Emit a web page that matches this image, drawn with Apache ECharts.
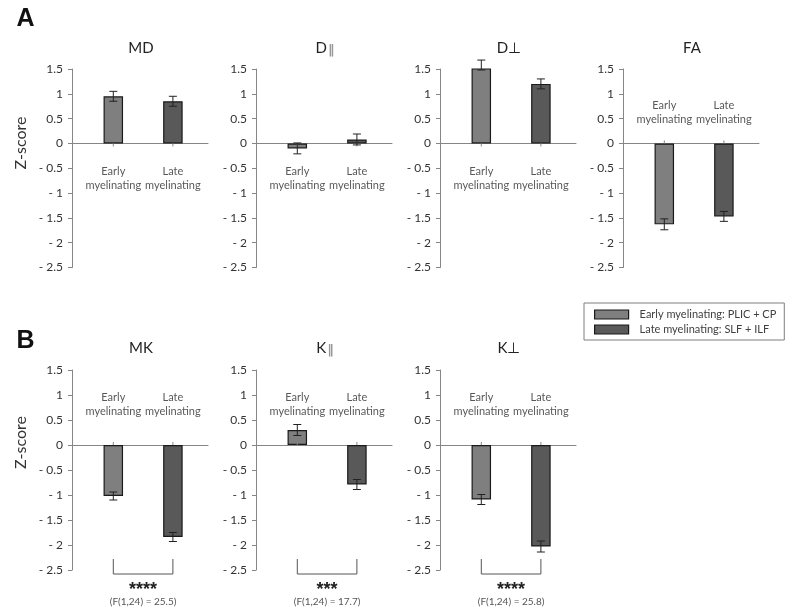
<!DOCTYPE html>
<html>
<head>
<meta charset="utf-8">
<script src="https://cdn.jsdelivr.net/npm/echarts@6/dist/echarts.min.js"></script>
<style>html,body{margin:0;padding:0;background:#fff;}#c{width:800px;height:616px;}</style>
</head>
<body>
<div id="c"></div>
<script>
// ---- data ----
const categories = ['Early\nmyelinating', 'Late\nmyelinating'];
const seriesNames = ['Early myelinating: PLIC + CP', 'Late myelinating: SLF + ILF'];
const panelTitles = ['{m|MD}', '{m|D}{p|‖}', '{m|D⊥}', '{m|FA}', '{m|MK}', '{m|K}{p|‖}', '{m|K⊥}'];
const earlyValues = [0.95, -0.10, 1.58, -1.63, -1.02, 0.30, -1.09];
const lateValues  = [0.85, 0.08, 1.20, -1.47, -1.84, -0.79, -2.03];
const earlyErrors = [0.10, 0.11, 0.10, 0.11, 0.08, 0.11, 0.10];
const lateErrors  = [0.10, 0.11, 0.10, 0.10, 0.09, 0.10, 0.11];
const sigStars = [null, null, null, null, '****', '***', '****'];
const sigStats = [null, null, null, null, '(F(1,24) = 25.5)', '(F(1,24) = 17.7)', '(F(1,24) = 25.8)'];
const yTickValues = [1.5, 1, 0.5, 0, -0.5, -1, -1.5, -2, -2.5];
const yTickLabels = ['1.5', '1', '0.5', '0', '- 0.5', '- 1', '- 1.5', '- 2', '- 2.5'];
const panelLetters = ['A', 'B'];
const yAxisTitle = 'Z-score';

// ---- layout ----
const panelAxisX = [72, 256, 440, 623, 72, 256, 440];
const panelRow = [0, 0, 0, 0, 1, 1, 1];
const rowTop = [69, 370];
const rowHeight = [198.5, 200];
const rowTitleY = [47.7, 347.7];
const labelPos = ['bottom', 'bottom', 'bottom', 'top', 'top', 'top', 'top'];
const labelMargin = [21, 21, 21, 17, 27, 27, 27];
const FONT = 'Lato, "Liberation Sans", sans-serif';
const AXIS_COLOR = '#868686';
const COLORS = ['#7f7f7f', '#595959'];

const grid = [], xAxis = [], yAxis = [], series = [], graphic = [];
const catPos = categories.map((c, k) => k + 0.5); // band centres on the band axis

function yLabel(v) {
  const i = yTickValues.findIndex(t => Math.abs(t - v) < 1e-9);
  return i >= 0 ? yTickLabels[i] : '';
}

panelTitles.forEach((t, i) => {
  const ax = panelAxisX[i], r = panelRow[i];
  const wide = grid.length, narrow = wide + 1;
  grid.push({ left: ax, top: rowTop[r], width: 136, height: rowHeight[r] });
  grid.push({ left: ax + 11.5, top: rowTop[r], width: 119.2, height: rowHeight[r] });
  // wide grid axes (visible y axis + zero line)
  yAxis.push({
    gridIndex: wide, type: 'value', min: -2.5, max: 1.5, interval: 0.5,
    axisLine: { show: true, lineStyle: { color: AXIS_COLOR, width: 1 } },
    axisTick: { show: true, length: 4, lineStyle: { color: AXIS_COLOR } },
    axisLabel: { formatter: yLabel, fontSize: 12, fontFamily: FONT, color: '#333', margin: 9 },
    splitLine: { show: false }
  });
  xAxis.push({
    gridIndex: wide, type: 'value', min: 0, max: 1,
    axisLine: { show: true, onZero: true, lineStyle: { color: AXIS_COLOR, width: 1 } },
    axisTick: { show: false }, axisLabel: { show: false }, splitLine: { show: false }
  });
  // narrow grid axes (bars), hidden
  yAxis.push({ gridIndex: narrow, type: 'value', min: -2.5, max: 1.5, interval: 0.5, show: false });
  xAxis.push({ gridIndex: narrow, type: 'value', min: 0, max: categories.length, show: false });

  const vals = [earlyValues[i], lateValues[i]];
  const errs = [earlyErrors[i], lateErrors[i]];
  seriesNames.forEach((name, k) => {
    series.push({
      name, type: 'bar', xAxisIndex: narrow, yAxisIndex: narrow,
      data: [[catPos[k], vals[k]]],
      barWidth: 19.5, barGap: '-100%',
      itemStyle: { color: COLORS[k], borderColor: '#1a1a1a', borderWidth: 1.2 },
      emphasis: { disabled: true }, animation: false, z: 2
    });
  });
  // category labels + ticks at the zero line
  const dir = labelPos[i] === 'bottom' ? 1 : -1, m = labelMargin[i];
  series.push({
    type: 'custom', xAxisIndex: narrow, yAxisIndex: narrow, z: 4, animation: false, clip: false,
    data: catPos.map((p, k) => [p, 0, k]),
    renderItem(params, api) {
      const p = api.coord([api.value(0), api.value(1)]);
      const label = categories[api.value(2)];
      return { type: 'group', children: [
        { type: 'line', shape: { x1: p[0], y1: p[1], x2: p[0], y2: p[1] + dir * 3 }, style: { stroke: AXIS_COLOR, lineWidth: 1 } },
        { type: 'text', x: p[0], y: p[1] + dir * m,
          style: { text: label, font: '11px ' + FONT, fill: '#595959', align: 'center',
                   verticalAlign: dir > 0 ? 'top' : 'bottom', lineHeight: 14 } }
      ] };
    }
  });
  // error bars
  series.push({
    type: 'custom', xAxisIndex: narrow, yAxisIndex: narrow, z: 5, animation: false,
    data: [[catPos[0], vals[0], errs[0]], [catPos[1], vals[1], errs[1]]],
    renderItem(params, api) {
      const x = api.value(0), v = api.value(1), e = api.value(2);
      const hi = api.coord([x, v + e]), lo = api.coord([x, v - e]);
      const c = 4, st = { stroke: '#222', lineWidth: 1 };
      return { type: 'group', children: [
        { type: 'line', shape: { x1: hi[0], y1: hi[1], x2: lo[0], y2: lo[1] }, style: st },
        { type: 'line', shape: { x1: hi[0] - c, y1: hi[1], x2: hi[0] + c, y2: hi[1] }, style: st },
        { type: 'line', shape: { x1: lo[0] - c, y1: lo[1], x2: lo[0] + c, y2: lo[1] }, style: st }
      ] };
    }
  });
  if (sigStars[i]) {
    const stars = sigStars[i], stat = sigStats[i];
    series.push({
      type: 'custom', xAxisIndex: narrow, yAxisIndex: narrow, z: 5, animation: false, clip: false,
      data: [[catPos[0], catPos[1]]],
      renderItem(params, api) {
        const a = api.coord([api.value(0), -2.5]), b = api.coord([api.value(1), -2.5]);
        const top = a[1] - 11, bot = a[1] + 4, mid = (a[0] + b[0]) / 2;
        return { type: 'group', children: [
          { type: 'polyline', shape: { points: [[a[0], top], [a[0], bot], [b[0], bot], [b[0], top]] },
            style: { stroke: '#555', lineWidth: 1, fill: null } },
          { type: 'text', x: mid, y: bot + 16, style: { text: stars, font: 'bold 18px "Liberation Sans", sans-serif', fill: '#222', align: 'center', verticalAlign: 'middle' } },
          { type: 'text', x: mid, y: bot + 27.5, style: { text: stat, font: '10px ' + FONT, fill: '#555', align: 'center', verticalAlign: 'middle' } }
        ] };
      }
    });
  }
  graphic.push({
    type: 'text', x: ax + 69, y: rowTitleY[r],
    style: {
      text: t, align: 'center', verticalAlign: 'middle', textAlign: 'center', textVerticalAlign: 'middle',
      rich: {
        m: { fontSize: 15, fontFamily: FONT, fill: '#222', color: '#222' },
        p: { fontSize: 13, fontFamily: '"DejaVu Sans"', fontWeight: 'bold', fill: '#999', color: '#999', padding: [6, 0, 0, 1] }
      }
    }
  });
});

panelLetters.forEach((L, r) => {
  graphic.push({ type: 'text', x: 25.5, y: r === 0 ? 19 : 341,
    style: { text: L, font: 'bold 25px "Liberation Sans", sans-serif', fill: '#111', align: 'center', verticalAlign: 'middle', textAlign: 'center', textVerticalAlign: 'middle' } });
  graphic.push({ type: 'text', x: 20.7, y: r === 0 ? 143 : 442.5, rotation: Math.PI / 2,
    style: { text: yAxisTitle, font: '16px ' + FONT, fill: '#333', align: 'center', verticalAlign: 'middle', textAlign: 'center', textVerticalAlign: 'middle' } });
});

const chart = echarts.init(document.getElementById('c'), null, { renderer: 'canvas' });
chart.setOption({
  animation: false,
  backgroundColor: '#fff',
  grid, xAxis, yAxis, series, graphic,
  legend: {
    data: seriesNames, orient: 'vertical', left: 584, top: 303,
    padding: [6, 8, 5, 10], itemGap: 4, itemWidth: 34, itemHeight: 9, icon: 'rect',
    borderColor: '#7f7f7f', borderWidth: 1, selectedMode: false,
    itemStyle: { borderColor: '#1a1a1a', borderWidth: 1.2 },
    textStyle: { fontSize: 11, fontFamily: FONT, color: '#404040', padding: [0, 0, 0, 6] }
  }
});
</script>
</body>
</html>
